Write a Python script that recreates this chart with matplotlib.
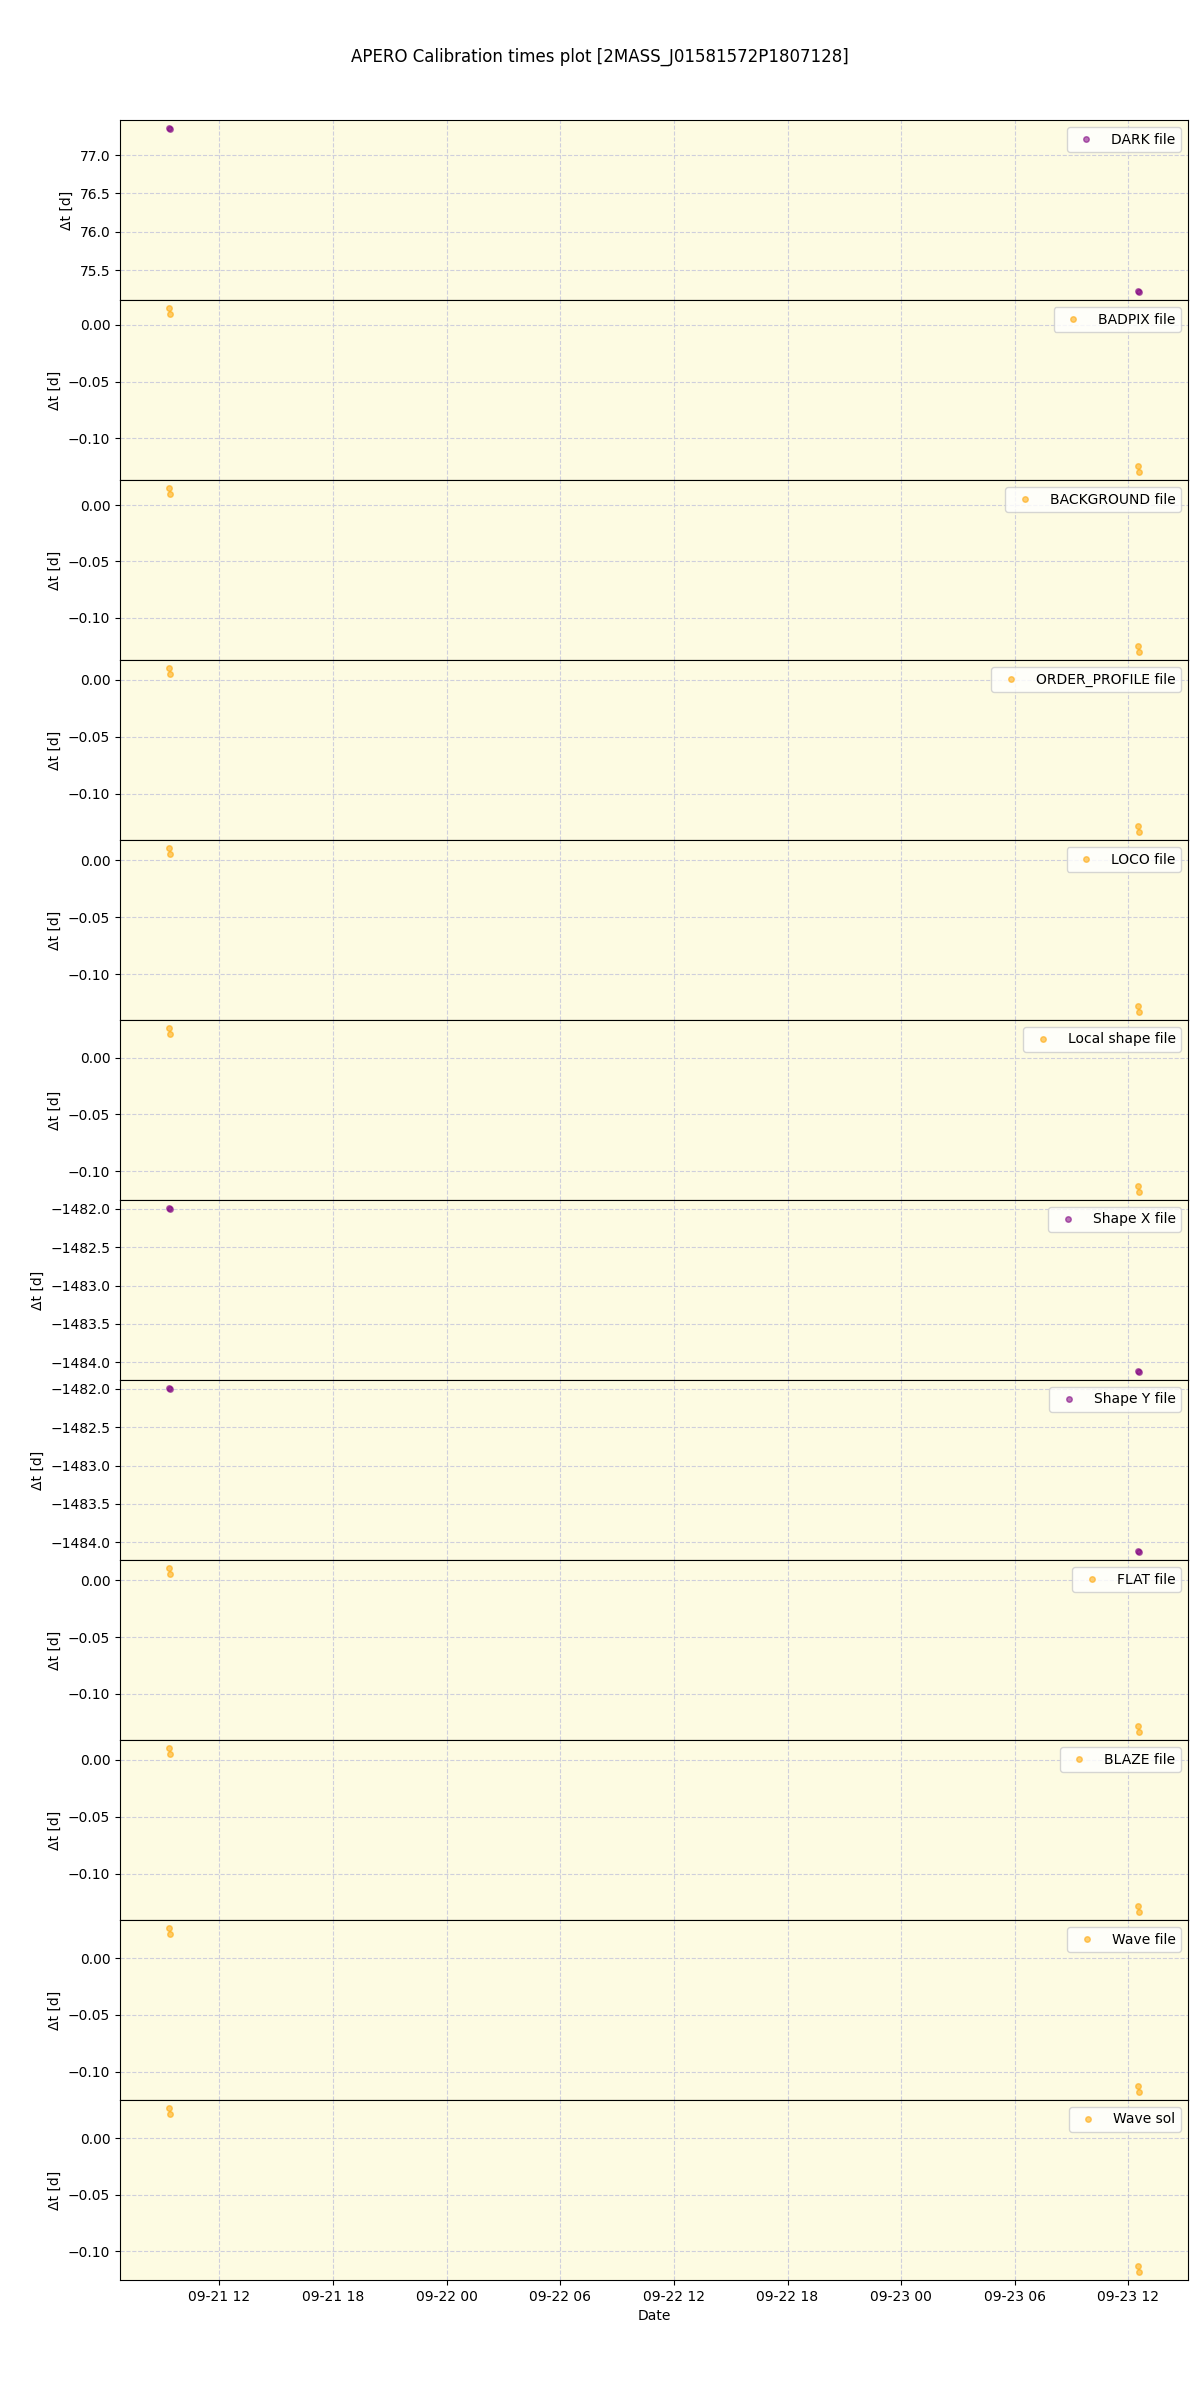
# APERO calibration times plot - Δt between calibration file and observation

import pandas as pd
import matplotlib
matplotlib.use("Agg")
import matplotlib.pyplot as plt
import matplotlib.dates as mdates

# --- DATA ---
obs_times = pd.to_datetime([
    "2020-09-21 09:19", "2020-09-21 09:24",
    "2020-09-23 12:29", "2020-09-23 12:35",
])

labels = [
    "DARK file", "BADPIX file", "BACKGROUND file", "ORDER_PROFILE file",
    "LOCO file", "Local shape file", "Shape X file", "Shape Y file",
    "FLAT file", "BLAZE file", "Wave file", "Wave sol",
]

# colour per panel: purple for night-independent files, orange for the rest
colors = [
    "purple", "orange", "orange", "orange",
    "orange", "orange", "purple", "purple",
    "orange", "orange", "orange", "orange",
]

dt_dark = [77.349, 77.344, 75.225, 75.220]
dt_badpix = [0.0147, 0.0096, -0.1244, -0.1296]
dt_background = [0.0150, 0.0098, -0.1250, -0.1302]
dt_order_profile = [0.0103, 0.0051, -0.1281, -0.1333]
dt_loco = [0.0105, 0.0053, -0.1278, -0.1330]
dt_local_shape = [0.0261, 0.0209, -0.1130, -0.1182]
dt_shape_x = [-1481.994, -1481.999, -1484.117, -1484.122]
dt_shape_y = [-1481.990, -1481.995, -1484.122, -1484.127]
dt_flat = [0.0106, 0.0054, -0.1281, -0.1333]
dt_blaze = [0.0103, 0.0051, -0.1281, -0.1333]
dt_wave_file = [0.0266, 0.0213, -0.1126, -0.1178]
dt_wave_sol = [0.0266, 0.0213, -0.1129, -0.1181]

all_dt = [
    dt_dark, dt_badpix, dt_background, dt_order_profile,
    dt_loco, dt_local_shape, dt_shape_x, dt_shape_y,
    dt_flat, dt_blaze, dt_wave_file, dt_wave_sol,
]

# --- PLOT ---
fig, axes = plt.subplots(len(labels), 1, figsize=(12, 24), sharex=True)
fig.subplots_adjust(left=0.1, right=0.99, top=0.95, bottom=0.05, hspace=0)

for ax, label, color, dt in zip(axes, labels, colors, all_dt):
    ax.set_facecolor("#fdfbe2")
    ax.plot(obs_times, dt, ls="None", marker="o", ms=4, color=color,
            alpha=0.55, label=label)
    ax.set_ylabel("Δt [d]")
    ax.grid(True, ls="--", color="#cfcfdc")
    ax.legend(loc="upper right")

axes[-1].xaxis.set_major_locator(mdates.HourLocator(byhour=[0, 6, 12, 18]))
axes[-1].xaxis.set_major_formatter(mdates.DateFormatter("%m-%d %H"))
axes[-1].set_xlabel("Date")

fig.suptitle("APERO Calibration times plot [2MASS_J01581572P1807128]")

plt.savefig("out.png", dpi=100)
